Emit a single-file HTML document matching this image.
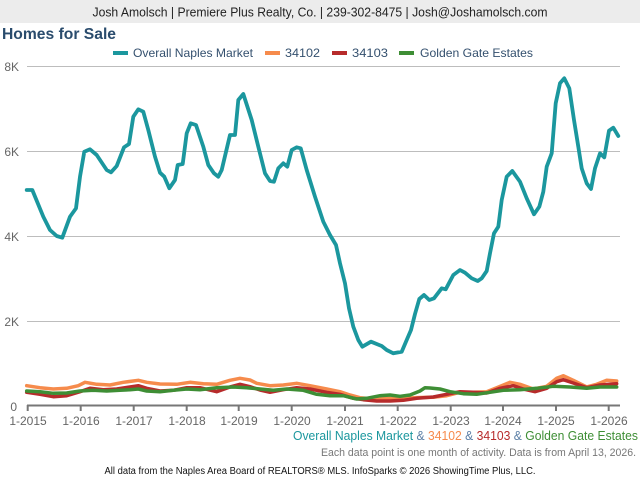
<!DOCTYPE html>
<html>
<head>
<meta charset="utf-8">
<style>
html,body{margin:0;padding:0;background:#fff;}
svg{display:block;font-family:"Liberation Sans",Arial,sans-serif;}
</style>
</head>
<body>
<svg width="640" height="480" viewBox="0 0 640 480" xmlns="http://www.w3.org/2000/svg">
  <!-- header band -->
  <rect x="0" y="0" width="640" height="23" fill="#ececec"/>
  <text x="320" y="16.5" font-size="12.5" fill="#222" text-anchor="middle" textLength="455" lengthAdjust="spacingAndGlyphs">Josh Amolsch | Premiere Plus Realty, Co. | 239-302-8475 | Josh@Joshamolsch.com</text>

  <!-- title -->
  <text x="2" y="39" font-size="16" font-weight="bold" fill="#2a4c6d" textLength="114" lengthAdjust="spacingAndGlyphs">Homes for Sale</text>

  <!-- legend -->
  <g font-size="12" fill="#34506e">
    <rect x="113" y="51" width="15" height="4" fill="#1b979e"/>
    <text x="133" y="57" textLength="120" lengthAdjust="spacingAndGlyphs">Overall Naples Market</text>
    <rect x="265" y="51" width="15" height="4" fill="#f68b4c"/>
    <text x="285" y="57" textLength="35" lengthAdjust="spacingAndGlyphs">34102</text>
    <rect x="332" y="51" width="15" height="4" fill="#b72b2b"/>
    <text x="352" y="57" textLength="36" lengthAdjust="spacingAndGlyphs">34103</text>
    <rect x="399" y="51" width="15" height="4" fill="#3e8e35"/>
    <text x="420" y="57" textLength="113" lengthAdjust="spacingAndGlyphs">Golden Gate Estates</text>
  </g>

  <!-- gridlines -->
  <g stroke="#bdbdbd" stroke-width="1">
    <line x1="27" y1="66.5" x2="620" y2="66.5"/>
    <line x1="27" y1="151.5" x2="620" y2="151.5"/>
    <line x1="27" y1="236.5" x2="620" y2="236.5"/>
    <line x1="27" y1="321.5" x2="620" y2="321.5"/>
  </g>

  <!-- y labels -->
  <g font-size="12" fill="#666" text-anchor="end">
    <text x="19" y="71">8K</text>
    <text x="19" y="156">6K</text>
    <text x="19" y="241">4K</text>
    <text x="19" y="326">2K</text>
    <text x="17" y="411">0</text>
  </g>

  <!-- series -->
  <g fill="none" stroke-linejoin="round" stroke-linecap="round">
    <polyline stroke="#1b979e" stroke-width="3.8" points="26.7,190 32.3,190 43.3,216.7 50,230 56.7,236 62.3,237.7 70,216.7 76,208.3 80,176.7 84.3,151.7 90,149.3 96.7,155 106.7,170 111,172.3 116.7,166 124,147.3 129,144 133.3,116.7 138.3,109.3 143.3,111.7 148.3,130 155,156.7 160,172.7 164.3,176.7 169.3,188.3 175,180 177.7,165 182.7,164 186.7,133.3 190.7,123.3 196,125 203.3,146.7 208.3,165 214,173.3 218.3,176.7 221.7,170 230,135 235,135 238.3,100 243.3,94 251.7,120 258.3,146.7 265,173.3 270,181 274,181.7 278.3,168.3 283.3,163.3 287.3,166.7 291.7,150 296.7,147.3 300.7,148.3 306.7,170 315,196.7 323.3,221.7 330,235 336,245 340,263.3 345,283.3 349,308.3 353.3,326.7 358.3,340 362.3,346.7 371,341.7 381.7,346 386.7,350 393.3,353.3 401.7,351.7 406.7,340 411,330 415,314 419.3,299 424,295 429.3,300 434,298.3 441.7,288.3 445.7,289.3 453.3,275 460,270 465,272.7 471.7,278.3 477.7,281 481.7,278.3 486.7,271 490,253.3 494,233.3 498.3,226.7 501.7,200 506.7,176.7 512.3,171 520,181.7 526.7,198.3 534,214.3 539.3,206.7 543.3,191.7 546.7,166.7 551.7,153.3 555.7,103.3 560,83.3 564.3,78.3 569.3,88.3 574,120 578.3,146.7 581.7,168.3 586.7,183.3 591,189 595,168.3 600,153.3 604.3,157.3 609,130.7 613.3,127.7 618.3,136"/>
    <polyline stroke="#f68b4c" stroke-width="3.5" points="26.7,385.7 40,387.7 53.3,389 66.7,388.3 78.3,385.7 85,382.3 96.7,384.3 110,385 123.3,382.3 138.3,380.3 146.7,382.3 160,384 176.7,384.3 190,382.3 203.3,383.7 216.7,384.3 230,380.3 240,378.3 250,380 256.7,383.3 270,385.7 283.3,385 296.7,383.3 310,385.7 326.7,389 340,391.7 350,395 360,397.7 373.3,399 386.7,398.3 400,399 413.3,397.7 420,397.5 433.3,397.2 446.7,395.7 460,392.3 473.3,392.3 486.7,391.7 496.7,387.7 510,382.3 520,384.3 533.3,389 546.7,386.3 556.7,378.3 563.3,375.7 573.3,380.3 586.7,387 596.7,384.3 606.7,380.3 616.7,381"/>
    <polyline stroke="#b72b2b" stroke-width="3.5" points="26.7,392.3 40,394.3 53.3,396.7 66.7,395.7 80,391.7 90,388.3 103.3,389.7 116.7,389 130,387 138.3,385.7 146.7,388.3 160,391 173.3,390.3 186.7,387.7 200,387.7 216.7,391.7 230,387 240,384.3 250,386.7 260,390 270,392.3 283.3,389.7 296.7,387.7 310,389 326.7,392.3 340,394.3 353.3,398.3 363.3,399.7 376.7,401 390,401 403.3,400.3 416.7,398.3 433.3,397 446.7,394.3 460,391.7 473.3,392.3 486.7,393 500,388.3 513.3,385.7 523.3,389 535,391.7 546.7,388.3 556.7,381.7 563.3,379.7 573.3,383 586.7,387.7 600,385 616.7,383.7"/>
    <polyline stroke="#3e8e35" stroke-width="3.5" points="26.7,391 40,391.7 53.3,393.3 66.7,393 80,391 93.3,390.3 106.7,391 120,390.3 130,389.7 138.3,389 146.7,391 160,391.7 173.3,390.3 186.7,389 200,389.7 216.7,387.7 233.3,387 246.7,387.7 260,389 273.3,390.3 286.7,389 303.3,390.3 316.7,394.3 330,395.7 343.3,395.7 356.7,399 366.7,398.3 380,395.7 390,395 400,396.3 410,395 420,391 425,387.7 430,388 440,389 450,391.7 463.3,393.7 476.7,394.3 490,392.3 503.3,390.3 520,389.7 536.7,388.3 553.3,386.3 570,387 586.7,388.3 600,387 616.7,387"/>
  </g>

  <!-- x axis -->
  <line x1="27" y1="405.5" x2="620" y2="405.5" stroke="#777" stroke-width="2"/>
  <g stroke="#777" stroke-width="2">
    <line x1="27.7" y1="405" x2="27.7" y2="411"/>
    <line x1="80.7" y1="405" x2="80.7" y2="411"/>
    <line x1="133.7" y1="405" x2="133.7" y2="411"/>
    <line x1="186.7" y1="405" x2="186.7" y2="411"/>
    <line x1="238.7" y1="405" x2="238.7" y2="411"/>
    <line x1="291.7" y1="405" x2="291.7" y2="411"/>
    <line x1="345" y1="405" x2="345" y2="411"/>
    <line x1="397.7" y1="405" x2="397.7" y2="411"/>
    <line x1="450.7" y1="405" x2="450.7" y2="411"/>
    <line x1="503" y1="405" x2="503" y2="411"/>
    <line x1="556" y1="405" x2="556" y2="411"/>
    <line x1="608.7" y1="405" x2="608.7" y2="411"/>
  </g>
  <g font-size="12" fill="#666" text-anchor="middle">
    <text x="28" y="425">1-2015</text>
    <text x="81" y="425">1-2016</text>
    <text x="134" y="425">1-2017</text>
    <text x="187" y="425">1-2018</text>
    <text x="239" y="425">1-2019</text>
    <text x="292" y="425">1-2020</text>
    <text x="345" y="425">1-2021</text>
    <text x="398" y="425">1-2022</text>
    <text x="451" y="425">1-2023</text>
    <text x="503" y="425">1-2024</text>
    <text x="556" y="425">1-2025</text>
    <text x="609" y="425">1-2026</text>
  </g>

  <!-- series caption -->
  <text x="638" y="440" font-size="13" text-anchor="end" textLength="345" lengthAdjust="spacingAndGlyphs"><tspan fill="#1b979e">Overall Naples Market</tspan><tspan fill="#5b7fa6"> &amp; </tspan><tspan fill="#f68b4c">34102</tspan><tspan fill="#5b7fa6"> &amp; </tspan><tspan fill="#b72b2b">34103</tspan><tspan fill="#5b7fa6"> &amp; </tspan><tspan fill="#3e8e35">Golden Gate Estates</tspan></text>

  <text x="636" y="456" font-size="11" fill="#777" text-anchor="end" textLength="315" lengthAdjust="spacingAndGlyphs">Each data point is one month of activity. Data is from April 13, 2026.</text>

  <text x="320" y="474" font-size="10" fill="#111" text-anchor="middle" textLength="431" lengthAdjust="spacingAndGlyphs">All data from the Naples Area Board of REALTORS® MLS. InfoSparks © 2026 ShowingTime Plus, LLC.</text>
</svg>
</body>
</html>
